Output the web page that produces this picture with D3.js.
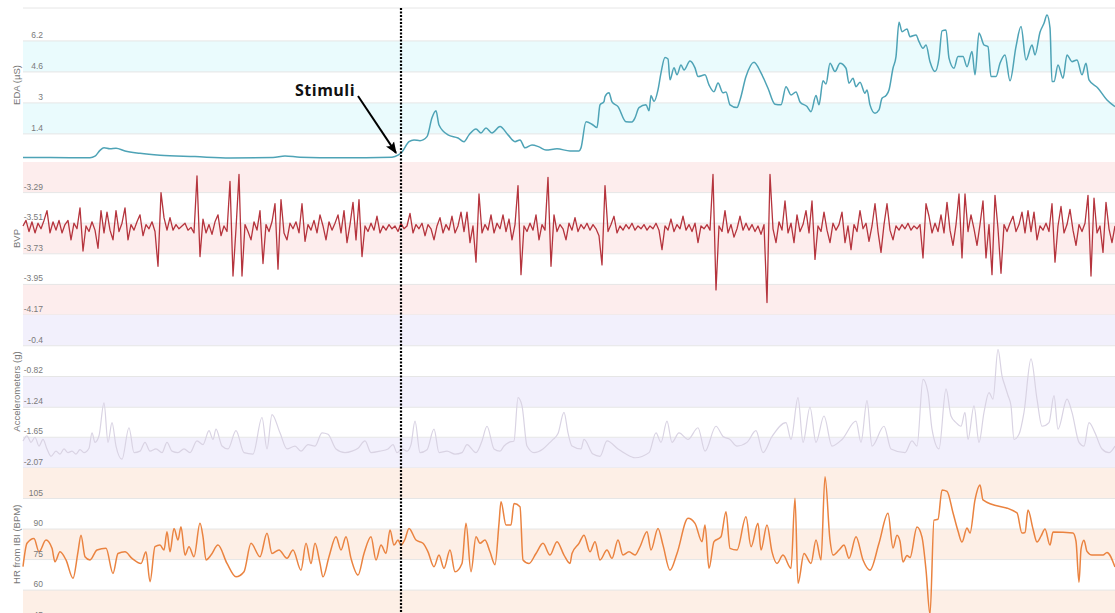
<!DOCTYPE html>
<html>
<head>
<meta charset="utf-8">
<script src="https://cdn.jsdelivr.net/npm/d3@7"></script>
<style>
  body { margin: 0; background: #fff; overflow: hidden; }
  svg { display: block; font-family: "Liberation Sans", Arial, sans-serif; }
</style>
</head>
<body>
<svg id="chart" width="1115" height="613"></svg>
<script>
// ---- data (time in s from start of window) ----
const stimulusT = 378;

const edaTicks = [1.4, 3, 4.6, 6.2];
const bvpTicks = [-3.29, -3.51, -3.73, -3.95, -4.17];
const accTicks = [-0.4, -0.82, -1.24, -1.65, -2.07];
const hrTicks = [105, 90, 75, 60, 45];

// EDA (µS) : [t, value]
const edaPoints = [
  [0,0.18],[27,0.18],[67,0.17],[72,0.25],[77,0.55],[81,0.68],[87,0.63],[93,0.66],[102,0.52],[117,0.40],
  [137,0.30],[172,0.23],[207,0.16],[250,0.18],[262,0.26],[277,0.20],[317,0.17],[369,0.20],[375,0.30],[379,0.47],
  [386,1.00],[391,1.09],[397,1.05],[404,1.26],[409,2.23],[413,2.59],[416,1.86],[425,1.35],[435,1.19],[441,1.00],
  [446,1.35],[453,1.66],[458,1.45],[463,1.71],[469,1.45],[477,1.78],[485,1.35],[492,1.00],[497,1.09],[502,0.68],
  [509,0.83],[516,0.73],[523,0.57],[534,0.63],[547,0.52],[556,0.52],[558,0.68],[563,2.03],[570,1.86],[574,1.73],
  [577,2.90],[581,3.07],[582,3.33],[586,3.52],[589,3.05],[595,2.81],[603,2.03],[609,2.02],[612,2.23],[616,2.76],
  [623,2.90],[626,2.59],[628,3.38],[631,3.07],[635,3.67],[638,4.55],[642,5.34],[645,5.27],[647,4.19],[651,4.81],
  [654,4.45],[658,4.96],[661,4.70],[667,5.17],[672,4.81],[675,4.36],[682,4.45],[686,3.93],[691,3.58],[695,4.03],
  [700,3.52],[703,3.57],[707,2.90],[714,2.76],[717,3.15],[723,4.36],[731,5.10],[738,4.55],[745,3.76],[752,2.93],
  [758,2.90],[763,3.84],[768,3.41],[773,3.57],[777,3.05],[784,2.81],[788,2.55],[793,3.38],[796,2.90],[800,4.14],
  [803,3.98],[807,5.05],[812,4.62],[817,5.05],[823,4.79],[826,4.02],[830,4.27],[833,3.84],[837,4.07],[842,3.50],
  [844,3.67],[847,2.90],[852,2.47],[856,2.64],[859,3.24],[863,3.38],[866,3.67],[870,4.79],[873,5.39],[876,7.17],
  [879,6.68],[884,6.82],[887,6.42],[893,6.51],[896,6.16],[900,5.82],[903,5.99],[907,5.13],[912,4.62],[916,5.31],
  [919,6.72],[923,6.77],[926,5.31],[931,4.79],[935,5.39],[940,5.39],[944,4.87],[949,5.65],[952,4.45],[956,6.61],
  [961,5.99],[965,5.91],[968,4.36],[973,4.36],[977,5.05],[982,5.48],[987,4.14],[993,5.91],[998,6.94],[1003,5.22],
  [1009,5.99],[1012,5.48],[1017,6.65],[1021,7.11],[1024,7.54],[1027,6.87],[1029,4.10],[1031,4.10],[1035,4.96],[1040,4.27],
  [1044,5.48],[1049,5.13],[1054,5.22],[1059,4.45],[1063,5.05],[1066,4.19],[1075,3.76],[1084,3.15],[1092,2.81]
];

// BVP : one sample every 3 s
const bvpStep = 3;
const bvpValues = [
  -3.53,-3.49,-3.57,-3.50,-3.58,-3.51,-3.55,-3.49,-3.42,-3.58,
  -3.50,-3.56,-3.49,-3.58,-3.52,-3.49,-3.63,-3.51,-3.55,-3.40,
  -3.71,-3.53,-3.57,-3.50,-3.56,-3.69,-3.42,-3.58,-3.43,-3.56,
  -3.63,-3.42,-3.57,-3.51,-3.40,-3.63,-3.52,-3.56,-3.50,-3.45,
  -3.60,-3.52,-3.55,-3.50,-3.57,-3.82,-3.29,-3.47,-3.56,-3.47,
  -3.56,-3.52,-3.55,-3.53,-3.51,-3.56,-3.54,-3.58,-3.17,-3.75,
  -3.48,-3.58,-3.52,-3.59,-3.50,-3.45,-3.60,-3.53,-3.57,-3.21,
  -3.89,-3.55,-3.16,-3.89,-3.52,-3.57,-3.63,-3.50,-3.56,-3.42,
  -3.80,-3.52,-3.57,-3.50,-3.37,-3.84,-3.34,-3.58,-3.63,-3.51,
  -3.55,-3.50,-3.58,-3.37,-3.64,-3.52,-3.56,-3.49,-3.58,-3.45,
  -3.53,-3.63,-3.50,-3.56,-3.51,-3.45,-3.58,-3.42,-3.65,-3.52,
  -3.36,-3.63,-3.34,-3.75,-3.53,-3.57,-3.51,-3.56,-3.46,-3.58,
  -3.53,-3.56,-3.52,-3.55,-3.53,-3.57,-3.51,-3.55,-3.53,-3.44,
  -3.58,-3.52,-3.55,-3.51,-3.60,-3.52,-3.55,-3.63,-3.53,-3.47,
  -3.58,-3.52,-3.56,-3.46,-3.58,-3.53,-3.43,-3.57,-3.43,-3.65,
  -3.53,-3.79,-3.30,-3.58,-3.52,-3.56,-3.45,-3.58,-3.51,-3.55,
  -3.45,-3.57,-3.48,-3.63,-3.52,-3.24,-3.88,-3.53,-3.57,-3.51,
  -3.56,-3.45,-3.63,-3.52,-3.56,-3.18,-3.82,-3.45,-3.57,-3.52,
  -3.55,-3.63,-3.51,-3.56,-3.47,-3.57,-3.52,-3.55,-3.51,-3.56,
  -3.52,-3.55,-3.60,-3.81,-3.24,-3.57,-3.52,-3.46,-3.58,-3.53,
  -3.56,-3.52,-3.55,-3.51,-3.56,-3.53,-3.55,-3.52,-3.56,-3.53,
  -3.55,-3.51,-3.56,-3.70,-3.53,-3.56,-3.48,-3.57,-3.52,-3.55,
  -3.46,-3.56,-3.52,-3.57,-3.51,-3.65,-3.53,-3.55,-3.52,-3.56,
  -3.16,-3.99,-3.53,-3.57,-3.42,-3.58,-3.52,-3.61,-3.55,-3.46,
  -3.56,-3.51,-3.56,-3.52,-3.57,-3.53,-3.59,-3.52,-4.08,-3.16,
  -3.55,-3.65,-3.50,-3.56,-3.35,-3.58,-3.51,-3.65,-3.45,-3.57,
  -3.52,-3.42,-3.58,-3.35,-3.77,-3.53,-3.57,-3.43,-3.56,-3.65,
  -3.51,-3.56,-3.52,-3.43,-3.65,-3.53,-3.70,-3.52,-3.57,-3.42,
  -3.55,-3.51,-3.64,-3.53,-3.37,-3.57,-3.72,-3.52,-3.37,-3.56,
  -3.63,-3.53,-3.56,-3.52,-3.55,-3.51,-3.56,-3.53,-3.55,-3.52,
  -3.76,-3.37,-3.46,-3.58,-3.51,-3.57,-3.45,-3.58,-3.36,-3.56,
  -3.67,-3.52,-3.30,-3.76,-3.30,-3.57,-3.45,-3.55,-3.67,-3.52,
  -3.35,-3.76,-3.52,-3.88,-3.31,-3.55,-3.87,-3.52,-3.57,-3.51,
  -3.46,-3.57,-3.52,-3.43,-3.58,-3.42,-3.57,-3.43,-3.63,-3.53,
  -3.56,-3.51,-3.57,-3.37,-3.79,-3.53,-3.39,-3.58,-3.52,-3.41,
  -3.56,-3.67,-3.52,-3.57,-3.51,-3.31,-3.89,-3.33,-3.58,-3.53,
  -3.72,-3.36,-3.55,-3.65,-3.53
];

// Accelerometers (g) : [t, value]
const accPoints = [
  [0,-1.70],[4,-1.63],[8,-1.72],[12,-1.65],[16,-1.77],[20,-1.68],[24,-1.81],[28,-1.91],[33,-1.84],[37,-1.88],
  [41,-1.81],[45,-1.86],[49,-1.84],[53,-1.88],[57,-1.82],[61,-1.86],[66,-1.80],[69,-1.59],[72,-1.72],[76,-1.63],
  [81,-1.18],[85,-1.72],[89,-1.45],[93,-1.77],[99,-1.95],[106,-1.52],[111,-1.86],[117,-1.84],[122,-1.72],[127,-1.84],
  [133,-1.81],[139,-1.86],[144,-1.72],[149,-1.84],[155,-1.86],[161,-1.81],[167,-1.86],[174,-1.70],[180,-1.75],[186,-1.56],
  [190,-1.68],[193,-1.54],[199,-1.77],[205,-1.81],[213,-1.56],[221,-1.86],[230,-1.88],[239,-1.38],[244,-1.81],[249,-1.34],
  [257,-1.59],[264,-1.81],[272,-1.77],[278,-1.84],[285,-1.75],[292,-1.77],[299,-1.59],[305,-1.61],[313,-1.81],[322,-1.86],
  [329,-1.84],[335,-1.80],[342,-1.70],[348,-1.86],[357,-1.84],[365,-1.81],[370,-1.75],[374,-1.86],[379,-1.81],[384,-1.84],
  [388,-1.75],[392,-1.43],[397,-1.86],[404,-1.82],[411,-1.54],[416,-1.86],[424,-1.84],[432,-1.88],[439,-1.86],[444,-1.75],
  [453,-1.86],[459,-1.70],[464,-1.50],[471,-1.81],[477,-1.84],[481,-1.77],[486,-1.72],[491,-1.70],[495,-1.11],[499,-1.22],
  [504,-1.77],[511,-1.86],[520,-1.81],[527,-1.72],[530,-1.68],[535,-1.60],[541,-1.31],[545,-1.59],[549,-1.77],[558,-1.81],
  [561,-1.68],[570,-1.88],[577,-1.91],[584,-1.70],[595,-1.81],[603,-1.88],[612,-1.93],[626,-1.86],[633,-1.59],[638,-1.72],
  [644,-1.43],[649,-1.72],[656,-1.59],[665,-1.68],[675,-1.52],[682,-1.84],[693,-1.50],[700,-1.64],[707,-1.68],[714,-1.77],
  [724,-1.72],[733,-1.56],[740,-1.86],[749,-1.64],[763,-1.45],[768,-1.68],[775,-1.11],[780,-1.72],[787,-1.24],[793,-1.72],
  [801,-1.36],[809,-1.77],[819,-1.68],[833,-1.43],[838,-1.72],[844,-1.15],[849,-1.77],[861,-1.50],[868,-1.81],[882,-1.86],
  [889,-1.70],[894,-1.77],[900,-0.86],[905,-1.04],[909,-1.54],[916,-1.81],[923,-0.99],[928,-1.36],[933,-1.45],[938,-1.50],
  [942,-1.31],[945,-1.68],[951,-1.22],[956,-1.72],[961,-1.31],[966,-1.04],[970,-1.13],[975,-0.45],[979,-0.81],[982,-0.95],
  [985,-1.08],[988,-1.22],[991,-1.68],[996,-1.61],[1001,-1.31],[1008,-0.58],[1014,-1.13],[1019,-1.50],[1026,-1.45],[1031,-1.08],
  [1035,-1.54],[1044,-1.13],[1049,-1.31],[1056,-1.72],[1061,-1.77],[1066,-1.45],[1072,-1.59],[1079,-1.81],[1086,-1.86],[1092,-1.77]
];

// HR from IBI (BPM) : [t, value]
const hrPoints = [
  [0,71.5],[4,83.0],[11,85.4],[16,78.8],[23,84.6],[29,80.5],[32,73.9],[37,78.8],[43,74.8],[50,65.8],
  [55,78.8],[58,87.0],[62,76.4],[67,74.8],[74,79.7],[83,80.5],[90,68.2],[95,78.0],[102,78.8],[109,75.6],
  [118,73.1],[123,78.8],[127,64.1],[132,81.3],[137,82.1],[141,79.7],[144,88.7],[147,78.8],[151,90.3],[155,84.6],
  [158,91.1],[162,77.2],[166,81.3],[171,76.4],[177,92.8],[180,86.2],[183,74.8],[188,77.2],[195,82.1],[204,73.1],
  [213,66.5],[221,69.0],[228,83.0],[237,76.4],[244,87.9],[249,78.0],[256,79.7],[264,75.6],[270,79.7],[278,69.8],
  [283,83.0],[288,73.1],[292,83.0],[297,73.1],[300,66.5],[306,76.4],[313,86.2],[318,79.7],[323,86.2],[328,75.6],
  [335,67.4],[341,78.0],[348,86.2],[353,74.8],[358,82.1],[363,78.0],[367,89.5],[371,82.1],[375,84.6],[378,82.1],
  [382,85.0],[386,90.3],[393,84.6],[400,83.0],[405,78.8],[411,71.5],[416,77.2],[421,70.7],[427,79.7],[432,69.0],
  [439,73.1],[443,92.8],[448,69.0],[453,86.2],[457,83.0],[462,84.6],[467,78.8],[472,72.5],[476,92.8],[478,103.4],
  [483,92.0],[488,92.0],[491,102.6],[497,101.0],[500,74.8],[506,73.1],[513,78.0],[520,83.0],[527,77.2],[534,83.8],
  [541,77.2],[547,73.1],[549,78.0],[556,83.0],[561,87.0],[567,78.8],[572,83.8],[577,74.8],[584,79.7],[589,75.6],
  [595,84.6],[600,77.2],[606,78.8],[612,77.2],[617,81.3],[624,88.7],[628,79.7],[635,90.3],[640,82.1],[647,69.8],
  [654,78.0],[665,95.3],[672,92.8],[679,83.8],[682,92.0],[686,70.7],[691,83.8],[698,86.2],[703,98.5],[707,80.5],
  [714,79.7],[723,96.0],[728,81.3],[735,92.8],[738,79.7],[744,92.0],[749,78.8],[754,73.1],[760,77.2],[768,70.7],
  [772,105.1],[775,63.3],[781,78.0],[788,73.1],[793,84.6],[798,74.8],[802,115.7],[807,84.6],[810,77.2],[816,79.7],
  [821,82.1],[826,75.6],[833,86.2],[840,74.8],[847,69.8],[856,83.0],[865,97.7],[870,80.7],[874,87.0],[877,84.0],
  [880,73.8],[884,77.0],[887,76.0],[894,91.0],[899,86.0],[903,70.0],[907,48.0],[911,94.4],[915,94.8],[919,109.2],
  [924,108.5],[930,98.0],[935,89.0],[939,83.6],[944,90.5],[947,88.0],[952,104.3],[957,111.6],[960,104.3],[994,97.9],
  [999,88.0],[1002,88.3],[1005,99.3],[1010,90.0],[1014,83.6],[1018,86.5],[1022,90.0],[1027,82.1],[1030,88.5],[1050,88.0],
  [1053,84.0],[1056,63.9],[1058,80.0],[1061,84.5],[1064,79.0],[1069,77.2],[1080,77.2],[1084,78.5],[1092,71.3]
];

// ---- layout ----
const W = 1115, H = 613;
const plotLeft = 23;
const svg = d3.select("#chart");

const x = d3.scaleLinear().domain([0, 1092]).range([plotLeft, W]);

const panels = [
  { title: "EDA (µS)", top: 8, bottom: 162, domain: [-0.05, 7.9], ticks: edaTicks,
    band: "#eafbfd", firstShaded: false, data: edaPoints,
    color: "#4ea3b6", width: 1.5, curve: d3.curveMonotoneX },
  { title: "BVP", top: 162, bottom: 315, domain: [-4.17, -3.07], ticks: bvpTicks,
    band: "#fdeded", firstShaded: true, data: bvpValues.map((v, i) => [i * bvpStep, v]),
    color: "#b5343d", width: 1.3, curve: d3.curveLinear },
  { title: "Accelerometers (g)", top: 315, bottom: 468, domain: [-2.07, 0.02], ticks: accTicks,
    band: "#f2f0fc", firstShaded: true, data: accPoints,
    color: "#d9d3e3", width: 1.2, curve: d3.curveMonotoneX },
  { title: "HR from IBI (BPM)", top: 468, bottom: 620.6, domain: [45, 120], ticks: hrTicks,
    band: "#fdefe6", firstShaded: true, data: hrPoints,
    color: "#ea8340", width: 1.5, curve: d3.curveMonotoneX }
];

panels.forEach(p => {
  p.y = d3.scaleLinear().domain(p.domain).range([p.bottom, p.top]);
  const g = svg.append("g");

  // alternating bands between grid lines
  const bounds = Array.from(new Set([p.domain[1], ...p.ticks, p.domain[0]])).sort((a, b) => b - a);
  d3.pairs(bounds).forEach(([hi, lo], i) => {
    const shaded = (i % 2 === 0) === p.firstShaded;
    g.append("rect")
      .attr("x", plotLeft)
      .attr("width", W - plotLeft)
      .attr("y", p.y(hi))
      .attr("height", p.y(lo) - p.y(hi))
      .attr("fill", shaded ? p.band : "#ffffff");
  });

  // grid lines
  g.selectAll(".grid")
    .data(p.ticks)
    .join("line")
      .attr("x1", plotLeft).attr("x2", W)
      .attr("y1", d => p.y(d)).attr("y2", d => p.y(d))
      .attr("stroke", "#e6e6e6")
      .attr("stroke-width", 1);
});

// top grid line
svg.append("line")
  .attr("x1", plotLeft).attr("x2", W)
  .attr("y1", panels[0].top).attr("y2", panels[0].top)
  .attr("stroke", "#e6e6e6");

// series lines
panels.forEach(p => {
  svg.append("path")
    .datum(p.data)
    .attr("fill", "none")
    .attr("stroke", p.color)
    .attr("stroke-width", p.width)
    .attr("stroke-linejoin", "round")
    .attr("d", d3.line()
      .x(d => x(d[0]))
      .y(d => p.y(d[1]))
      .curve(p.curve));
});

// tick labels and titles
panels.forEach(p => {
  svg.append("g").selectAll("text")
    .data(p.ticks)
    .join("text")
      .attr("x", 43)
      .attr("y", d => p.y(d) - 3)
      .attr("text-anchor", "end")
      .attr("font-size", 8.5)
      .attr("fill", "#7a7a7a")
      .text(d => d);

  const cy = (p.top + Math.min(p.bottom, H + 8)) / 2;
  svg.append("text")
    .attr("transform", `translate(17,${cy}) rotate(-90)`)
    .attr("text-anchor", "middle")
    .attr("dominant-baseline", "middle")
    .attr("font-size", 9.5)
    .attr("fill", "#777")
    .text(p.title);
});

// stimulus marker
svg.append("line")
  .attr("x1", x(stimulusT)).attr("x2", x(stimulusT))
  .attr("y1", 8).attr("y2", H)
  .attr("stroke", "#000")
  .attr("stroke-width", 2.2)
  .attr("stroke-dasharray", "2,1.5");

svg.append("defs").append("marker")
  .attr("id", "arrow")
  .attr("viewBox", "0 0 10 10")
  .attr("refX", 9).attr("refY", 5)
  .attr("markerWidth", 6).attr("markerHeight", 6)
  .attr("markerUnits", "strokeWidth")
  .attr("orient", "auto")
  .append("path")
    .attr("d", "M0,1 L10,5 L0,9 L2,5 Z")
    .attr("fill", "#000");

const tip = [x(stimulusT) - 5, panels[0].y(0.42)];
svg.append("line")
  .attr("x1", 358).attr("y1", 96)
  .attr("x2", tip[0]).attr("y2", tip[1])
  .attr("stroke", "#000")
  .attr("stroke-width", 2)
  .attr("marker-end", "url(#arrow)");

svg.append("text")
  .attr("x", 295).attr("y", 95.5)
  .attr("font-family", "'Open Sans', 'Noto Sans', sans-serif")
  .attr("font-weight", 700)
  .attr("font-size", 16)
  .attr("letter-spacing", 0.5)
  .attr("fill", "#111")
  .text("Stimuli");
</script>
</body>
</html>
